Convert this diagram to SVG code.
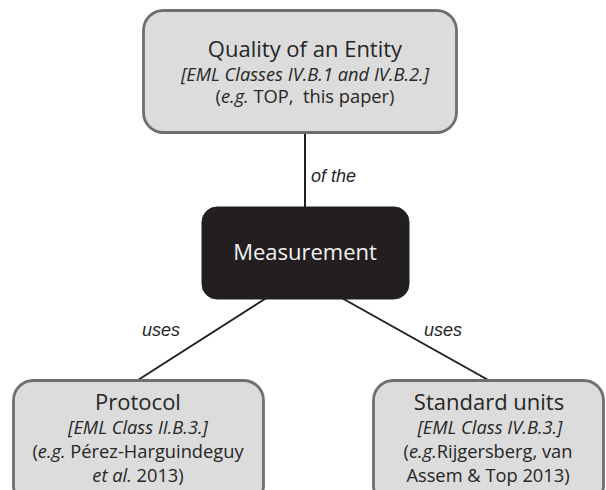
<svg xmlns="http://www.w3.org/2000/svg" width="606" height="490" viewBox="0 0 606 490">
<style>
.box{fill:#dcdcdc;stroke:#6f6f6f;stroke-width:2.8}
.dark{fill:#231f20;stroke:#231f20;stroke-width:1}
.t{font-family:"Open Sans","Noto Sans",sans-serif;fill:#262626;text-anchor:middle}
.h{font-size:22px}
.s{font-size:18.3px}
.i{font-style:italic}
.w{fill:#f2f2f2}
.lbl{font-family:"Liberation Sans",Arial,sans-serif;font-style:italic;font-size:18px;fill:#262626}
.c{stroke:#231f20;stroke-width:2;fill:none}
</style>
<g id="connectors">
<line class="c" x1="305" y1="134" x2="305" y2="208"/>
<line class="c" x1="268" y1="297" x2="138" y2="380"/>
<line class="c" x1="340" y1="297" x2="490" y2="381"/>
<text class="lbl" x="311" y="182">of the</text>
<text class="lbl" x="142" y="336">uses</text>
<text class="lbl" x="424" y="336">uses</text>
</g>
<g id="quality">
<rect class="box" x="143.5" y="10.5" width="313" height="122" rx="20"/>
<text class="t h" x="305" y="57">Quality of an Entity</text>
<text class="t s i" x="305" y="81">[EML Classes IV.B.1 and IV.B.2.]</text>
<text class="t s" x="305" y="103" xml:space="preserve">(<tspan font-style="italic">e.g.</tspan> TOP,  this paper)</text>
</g>
<g id="measurement">
<rect class="dark" x="202" y="207" width="207" height="92" rx="15"/>
<text class="t h w" x="305" y="260">Measurement</text>
</g>
<g id="protocol">
<rect class="box" x="13.5" y="380.5" width="250" height="125" rx="20"/>
<text class="t h" x="138" y="410">Protocol</text>
<text class="t s i" x="138" y="434">[EML Class II.B.3.]</text>
<text class="t s" x="138" y="458">(<tspan font-style="italic">e.g.</tspan> Pérez-Harguindeguy</text>
<text class="t s" x="138" y="482"><tspan font-style="italic">et al.</tspan> 2013)</text>
</g>
<g id="units">
<rect class="box" x="373.5" y="380.5" width="230" height="125" rx="20"/>
<text class="t h" x="489" y="410">Standard units</text>
<text class="t s i" x="490" y="434">[EML Class IV.B.3.]</text>
<text class="t s" x="488" y="458">(<tspan font-style="italic">e.g.</tspan>Rijgersberg, van</text>
<text class="t s" x="488" y="482">Assem &amp; Top 2013)</text>
</g>
</svg>
